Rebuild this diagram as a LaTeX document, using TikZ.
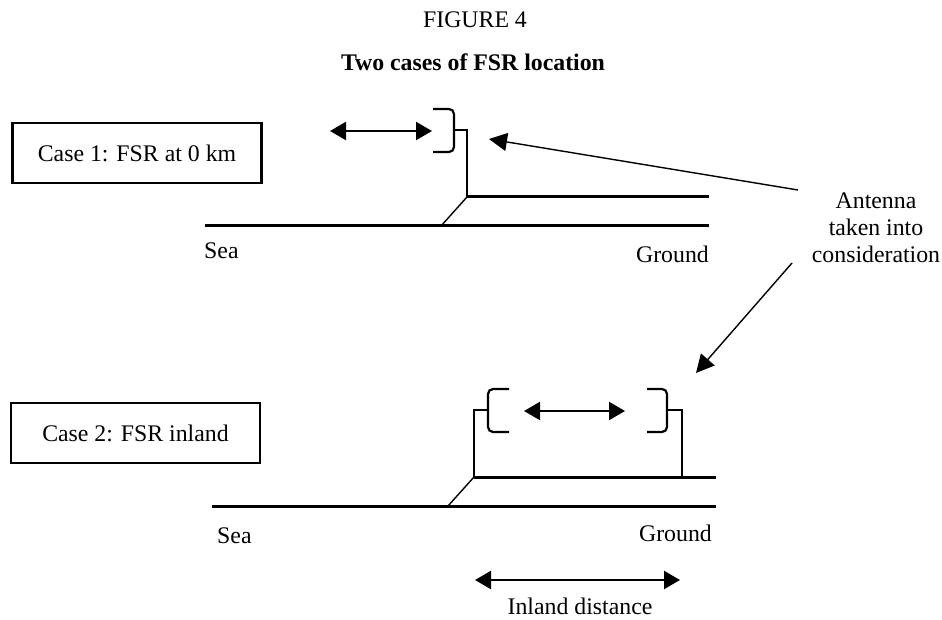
\documentclass[tikz,border=0pt]{standalone}
\usepackage{fontspec}
\setmainfont{Liberation Serif}
\usetikzlibrary{arrows.meta}
\tikzset{
  txt/.style={font=\fontsize{23.8bp}{27bp}\selectfont, inner sep=0pt},
  casebox/.style={draw, line width=2.2bp, font=\fontsize{23.8bp}{27bp}\selectfont, minimum width=249bp, minimum height=60bp, inner sep=0pt},
  groundline/.style={line width=3bp},
  slope/.style={line width=1.4bp},
  mast/.style={line width=2.2bp},
  bracketline/.style={line width=2.2bp, rounded corners=5bp},
  dbl/.style={line width=2.2bp, {Triangle[length=16bp,width=18bp]}-{Triangle[length=16bp,width=18bp]}},
  pointer/.style={line width=1.4bp, -{Triangle[length=18bp,width=18bp]}}
}
\begin{document}
\begin{tikzpicture}[x=1bp,y=-1bp]
\useasboundingbox (0,0) rectangle (942,620);
% titles
\node[txt] (fig) at (475,20) {FIGURE 4};
\node[txt, font=\fontsize{23.8bp}{27bp}\selectfont\bfseries] (title) at (473,62) {Two cases of FSR location};
% case boxes
\node[casebox] (case1) at (137,153) {Case 1: FSR at 0 km};
\node[casebox] (case2) at (135.5,433) {Case 2: FSR inland};
% ---- Case 1 ----
\coordinate (s1a) at (205,226);
\coordinate (s1b) at (709,226);
\coordinate (s1k) at (441,226);
\coordinate (g1a) at (467,197);
\coordinate (g1b) at (709,197);
\coordinate (m1t) at (467,130);
\coordinate (b1s) at (454,130);
\draw[groundline] (s1a) -- (s1b);
\draw[groundline] (g1a) -- (g1b);
\draw[slope] (s1k) -- (g1a);
\draw[mast] (g1a) -- (m1t) -- (b1s);
\draw[bracketline] (433,109) -- (454,109) -- (454,152) -- (433,152);
\coordinate (d1a) at (330,131);
\coordinate (d1b) at (432,131);
\draw[dbl] (d1a) -- (d1b);
\node[txt, anchor=west] (sea1) at (204,251) {Sea};
\node[txt, anchor=east] (gr1) at (709,254) {Ground};
% ---- Case 2 ----
\coordinate (s2a) at (212,506);
\coordinate (s2b) at (716,506);
\coordinate (s2k) at (448,506);
\coordinate (g2a) at (474,477);
\coordinate (g2b) at (716,477);
\coordinate (m2l) at (474,410);
\coordinate (m2r) at (682,410);
\coordinate (m2rb) at (682,477);
\draw[groundline] (s2a) -- (s2b);
\draw[groundline] (g2a) -- (g2b);
\draw[slope] (s2k) -- (g2a);
\draw[mast] (g2a) -- (m2l) -- (488,410);
\draw[mast] (m2rb) -- (m2r) -- (667,410);
\draw[bracketline] (509,389) -- (488,389) -- (488,432) -- (509,432);
\draw[bracketline] (647,389) -- (667,389) -- (667,432) -- (647,432);
\coordinate (d2a) at (524,411);
\coordinate (d2b) at (625,411);
\draw[dbl] (d2a) -- (d2b);
\node[txt, anchor=west] (sea2) at (217,536) {Sea};
\node[txt, anchor=east] (gr2) at (712,533) {Ground};
\coordinate (ia) at (475,580);
\coordinate (ib) at (680,580);
\draw[dbl] (ia) -- (ib);
\node[txt] (inland) at (580,606) {Inland distance};
% ---- antenna label and pointers ----
\node[txt, align=center] (ant) at (876,228) {Antenna\\taken into\\consideration};
\coordinate (p1s) at (798,190);
\coordinate (p1e) at (489,139);
\coordinate (p2s) at (792,263);
\coordinate (p2e) at (696,373);
\draw[pointer] (p1s) -- (p1e);
\draw[pointer] (p2s) -- (p2e);
\end{tikzpicture}
\end{document}
